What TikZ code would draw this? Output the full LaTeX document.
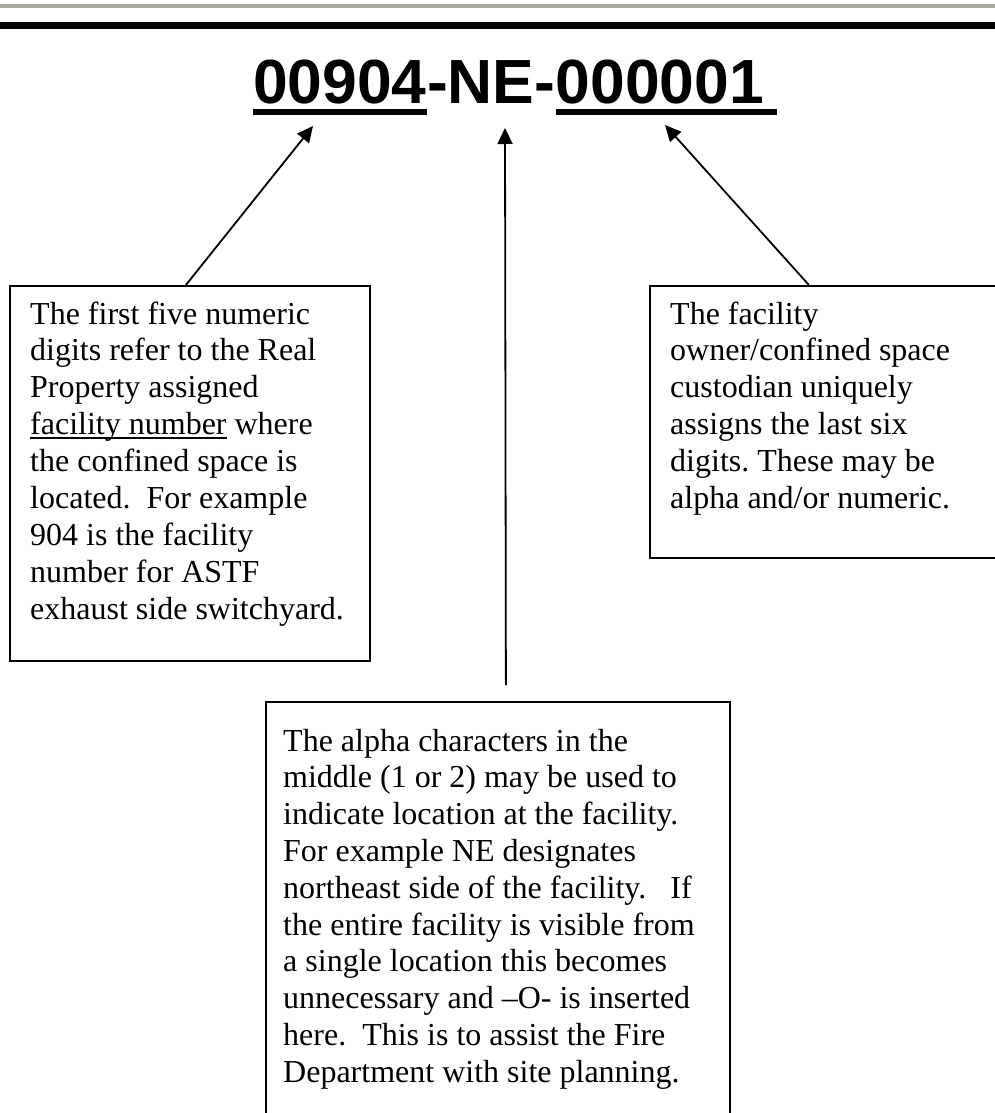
\documentclass[tikz,border=0pt]{standalone}
\usepackage{fontspec}
\setmainfont{Liberation Serif}
\newfontfamily\titlefont{Liberation Sans}
\usetikzlibrary{arrows.meta}
\definecolor{topgray}{RGB}{168,168,160}
\newcommand\myul[1]{\setbox0\hbox{#1}\rlap{\rule[-4.5pt]{\wd0}{1.8pt}}\box0}
\begin{document}
\begin{tikzpicture}[x=1pt,y=-1pt,
  boxst/.style={draw, line width=1.8pt, inner sep=0pt, anchor=north west},
  txt/.style={anchor=base west, inner sep=0pt, font=\fontsize{32}{37}\selectfont},
  ttl/.style={anchor=base west, inner sep=0pt, font=\titlefont\bfseries\fontsize{62.4}{70}\selectfont},
  arr/.style={line width=1.8pt, -{Triangle[length=16pt,width=15pt]}}]
\useasboundingbox (0,0) rectangle (995,1113);
\clip (0,0) rectangle (995,1113);
% top rules
\fill[topgray] (0,4) rectangle (995,8);
\fill[black] (0,22) rectangle (995,29);
% title
\node[ttl] (t1) at (253,104) {00904};
\node[ttl] (t2) at (t1.base east) {-NE-};
\node[ttl] (t3) at (t2.base east) {000001};
\fill ([yshift=-5pt]t1.base west) rectangle ([yshift=-11.5pt]t1.base east);
\fill ([yshift=-5pt]t3.base west) rectangle ([xshift=13pt,yshift=-11.5pt]t3.base east);
% boxes
\node[boxst, minimum width=360pt, minimum height=375pt] (boxL) at (9,285) {};
\node[boxst, minimum width=360pt, minimum height=272pt] (boxR) at (649,285) {};
\node[boxst, minimum width=464pt, minimum height=440pt] (boxM) at (265,701) {};
% arrow tips
\coordinate (tipL) at (313,126);
\coordinate (tipM) at (505,128);
\coordinate (tipR) at (665,125);
\draw[arr] ([xshift=-4pt]boxL.north) -- (tipL);
\draw[arr] ([xshift=8pt,yshift=16pt]boxM.north) -- (tipM);
\draw[arr] ([xshift=-21pt]boxR.north) -- (tipR);
% left text
\foreach \t [count=\i] in {{The first five numeric},{digits refer to the Real},{Property assigned},{\myul{facility number}\ where},{the confined space is},{located.\ \ For example},{904 is the facility},{number for ASTF},{exhaust side switchyard.}}
  \node[txt] (L\i) at (30,{324+36.9*(\i-1)}) {\t};
% right text
\foreach \t [count=\i] in {{The facility},{owner/confined space},{custodian uniquely},{assigns the last six},{digits.\ These may be},{alpha and/or numeric.}}
  \node[txt] (R\i) at (670,{324+36.9*(\i-1)}) {\t};
% middle text
\foreach \t [count=\i] in {{The alpha characters in the},{middle (1 or 2) may be used to},{indicate location at the facility.},{For example NE designates},{northeast side of the facility.\ \ \ If},{the entire facility is visible from},{a single location this becomes},{unnecessary and –O- is inserted},{here.\ \ This is to assist the Fire},{Department with site planning.}}
  \node[txt] (M\i) at (283,{751+36.8*(\i-1)}) {\t};
\end{tikzpicture}
\end{document}
